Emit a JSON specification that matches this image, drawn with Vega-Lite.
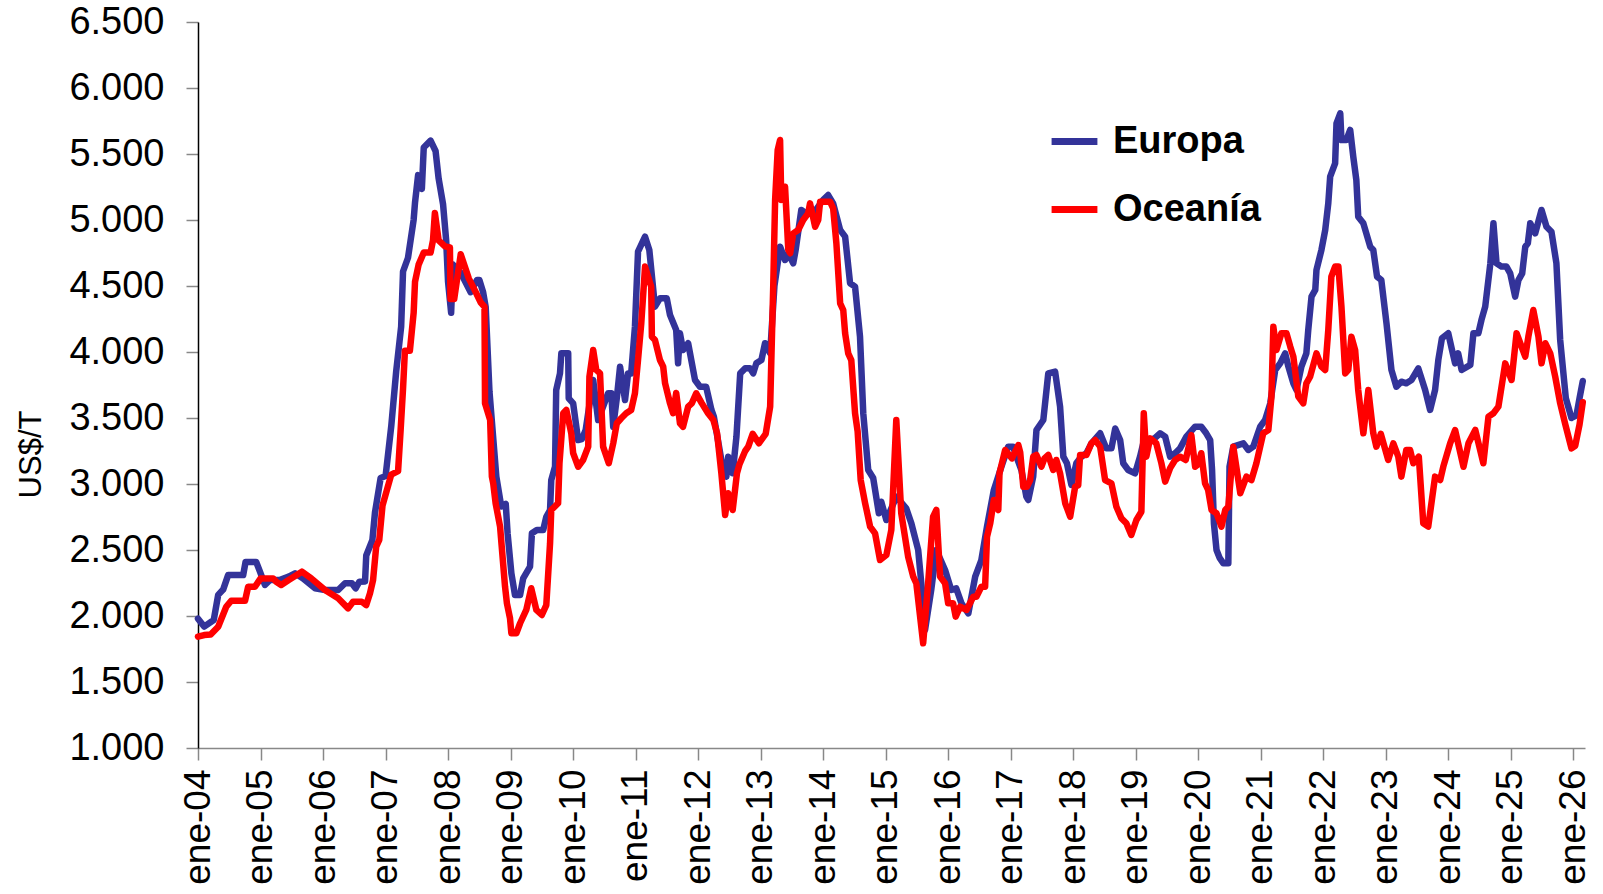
{
  "$schema": "https://vega.github.io/schema/vega-lite/v6.json",
  "autosize": {"type": "none"},
  "width": 1387,
  "height": 726,
  "padding": {"left": 198, "top": 22, "right": 18, "bottom": 146},
  "background": "white",
  "datasets": {
    "eu": [
      {"d":"2004-01-01","v":1980},{"d":"2004-02-06","v":1920},{"d":"2004-04-02","v":1970},{"d":"2004-04-28","v":2160},{"d":"2004-05-27","v":2200},{"d":"2004-06-25","v":2310},{"d":"2004-09-21","v":2310},{"d":"2004-10-05","v":2410},{"d":"2004-12-06","v":2410},{"d":"2004-12-28","v":2336},
      {"d":"2005-01-26","v":2235},{"d":"2005-02-25","v":2273},{"d":"2005-04-21","v":2273},{"d":"2005-06-14","v":2298},{"d":"2005-07-21","v":2323},{"d":"2005-09-06","v":2285},{"d":"2005-11-15","v":2210},
      {"d":"2006-01-12","v":2197},{"d":"2006-03-30","v":2197},{"d":"2006-05-09","v":2248},{"d":"2006-06-18","v":2248},{"d":"2006-07-10","v":2210},{"d":"2006-08-01","v":2260},{"d":"2006-09-03","v":2262},{"d":"2006-09-10","v":2458},{"d":"2006-10-16","v":2576},{"d":"2006-10-31","v":2783},{"d":"2006-12-03","v":3045},
      {"d":"2007-01-01","v":3060},{"d":"2007-02-03","v":3436},{"d":"2007-03-04","v":3853},{"d":"2007-04-02","v":4192},{"d":"2007-04-13","v":4610},{"d":"2007-05-12","v":4714},{"d":"2007-06-14","v":5001},{"d":"2007-06-22","v":5132},{"d":"2007-07-10","v":5340},{"d":"2007-08-01","v":5236},{"d":"2007-08-12","v":5549},{"d":"2007-09-21","v":5601},{"d":"2007-10-20","v":5523},{"d":"2007-11-07","v":5314},{"d":"2007-12-03","v":5118},{"d":"2007-12-21","v":4845},
      {"d":"2008-01-01","v":4532},{"d":"2008-01-19","v":4297},{"d":"2008-01-30","v":4662},{"d":"2008-03-15","v":4600},{"d":"2008-05-12","v":4453},{"d":"2008-06-18","v":4545},{"d":"2008-07-02","v":4545},{"d":"2008-07-24","v":4453},{"d":"2008-08-08","v":4340},{"d":"2008-08-30","v":3700},{"d":"2008-10-09","v":3056},{"d":"2008-11-07","v":2830},{"d":"2008-12-03","v":2850},{"d":"2008-12-14","v":2625},
      {"d":"2009-01-05","v":2324},{"d":"2009-01-26","v":2159},{"d":"2009-02-25","v":2159},{"d":"2009-03-15","v":2285},{"d":"2009-04-24","v":2374},{"d":"2009-05-05","v":2627},{"d":"2009-06-03","v":2652},{"d":"2009-07-10","v":2652},{"d":"2009-07-28","v":2752},{"d":"2009-08-19","v":2803},{"d":"2009-08-26","v":3030},{"d":"2009-09-17","v":3131},{"d":"2009-09-24","v":3712},{"d":"2009-10-16","v":3838},{"d":"2009-10-24","v":3990},{"d":"2009-12-03","v":3990},{"d":"2009-12-06","v":3649},
      {"d":"2010-01-01","v":3611},{"d":"2010-01-30","v":3333},{"d":"2010-02-21","v":3340},{"d":"2010-03-15","v":3409},{"d":"2010-04-28","v":3788},{"d":"2010-05-27","v":3485},{"d":"2010-07-24","v":3687},{"d":"2010-08-12","v":3687},{"d":"2010-08-23","v":3434},{"d":"2010-09-13","v":3650},{"d":"2010-10-02","v":3889},{"d":"2010-10-31","v":3636},{"d":"2010-11-18","v":3838},{"d":"2010-12-06","v":3838},{"d":"2010-12-28","v":4192},
      {"d":"2011-01-15","v":4760},{"d":"2011-02-25","v":4874},{"d":"2011-03-22","v":4773},{"d":"2011-04-24","v":4343},{"d":"2011-05-23","v":4407},{"d":"2011-07-02","v":4407},{"d":"2011-07-21","v":4280},{"d":"2011-08-26","v":4167},{"d":"2011-09-06","v":3914},{"d":"2011-09-17","v":4142},{"d":"2011-10-05","v":4015},{"d":"2011-11-04","v":4066},{"d":"2011-12-14","v":3788},
      {"d":"2012-01-12","v":3737},{"d":"2012-02-17","v":3737},{"d":"2012-03-19","v":3561},{"d":"2012-04-02","v":3510},{"d":"2012-05-16","v":3182},{"d":"2012-06-14","v":3056},{"d":"2012-06-25","v":3207},{"d":"2012-07-21","v":3081},{"d":"2012-08-12","v":3359},{"d":"2012-09-03","v":3838},{"d":"2012-10-02","v":3876},{"d":"2012-10-31","v":3876},{"d":"2012-11-18","v":3838},{"d":"2012-12-06","v":3914},
      {"d":"2013-01-05","v":3939},{"d":"2013-01-26","v":4066},{"d":"2013-02-25","v":3990},{"d":"2013-03-22","v":4500},{"d":"2013-04-24","v":4798},{"d":"2013-05-23","v":4697},{"d":"2013-06-11","v":4748},{"d":"2013-07-10","v":4672},{"d":"2013-07-24","v":4773},{"d":"2013-08-26","v":5076},{"d":"2013-09-24","v":5050},{"d":"2013-11-04","v":5050},
      {"d":"2014-01-01","v":5152},{"d":"2014-01-30","v":5189},{"d":"2014-02-28","v":5126},{"d":"2014-04-10","v":4924},{"d":"2014-05-09","v":4874},{"d":"2014-06-07","v":4521},{"d":"2014-07-06","v":4495},{"d":"2014-08-04","v":4116},{"d":"2014-08-23","v":3536},{"d":"2014-09-21","v":3106},{"d":"2014-10-20","v":3045},{"d":"2014-11-22","v":2778},{"d":"2014-12-06","v":2866},
      {"d":"2015-01-05","v":2727},{"d":"2015-03-04","v":2904},{"d":"2015-05-01","v":2816},{"d":"2015-05-31","v":2702},{"d":"2015-07-10","v":2500},{"d":"2015-08-08","v":2096},{"d":"2015-08-19","v":1894},{"d":"2015-09-24","v":2197},{"d":"2015-10-24","v":2500},{"d":"2015-12-14","v":2349},
      {"d":"2016-01-19","v":2197},{"d":"2016-02-17","v":2210},{"d":"2016-03-19","v":2096},{"d":"2016-04-28","v":2020},{"d":"2016-06-07","v":2298},{"d":"2016-07-13","v":2424},{"d":"2016-08-15","v":2677},{"d":"2016-09-24","v":2955},{"d":"2016-11-07","v":3131},{"d":"2016-12-17","v":3283},
      {"d":"2017-01-15","v":3283},{"d":"2017-02-03","v":3207},{"d":"2017-03-04","v":3106},{"d":"2017-04-02","v":2904},{"d":"2017-04-13","v":2879},{"d":"2017-05-12","v":3056},{"d":"2017-05-31","v":3409},{"d":"2017-07-10","v":3485},{"d":"2017-08-08","v":3838},{"d":"2017-09-17","v":3851},{"d":"2017-10-16","v":3586},{"d":"2017-11-04","v":3207},{"d":"2017-11-25","v":3157},{"d":"2017-12-21","v":2993},
      {"d":"2018-01-19","v":3157},{"d":"2018-02-17","v":3207},{"d":"2018-03-19","v":3233},{"d":"2018-04-17","v":3308},{"d":"2018-06-07","v":3384},{"d":"2018-07-13","v":3270},{"d":"2018-08-12","v":3270},{"d":"2018-09-03","v":3420},{"d":"2018-10-02","v":3333},{"d":"2018-10-20","v":3157},{"d":"2018-11-18","v":3106},{"d":"2018-12-28","v":3081},
      {"d":"2019-01-26","v":3207},{"d":"2019-02-14","v":3308},{"d":"2019-04-21","v":3346},{"d":"2019-05-23","v":3384},{"d":"2019-06-22","v":3359},{"d":"2019-07-21","v":3207},{"d":"2019-08-19","v":3233},{"d":"2019-09-17","v":3270},{"d":"2019-10-24","v":3359},{"d":"2019-12-14","v":3434},
      {"d":"2020-01-19","v":3434},{"d":"2020-02-17","v":3384},{"d":"2020-03-11","v":3333},{"d":"2020-03-22","v":3106},{"d":"2020-04-02","v":2700},{"d":"2020-04-17","v":2500},{"d":"2020-05-05","v":2440},{"d":"2020-05-27","v":2399},{"d":"2020-06-25","v":2399},{"d":"2020-07-02","v":3131},{"d":"2020-07-24","v":3283},{"d":"2020-09-21","v":3308},{"d":"2020-10-20","v":3258},{"d":"2020-11-18","v":3283},{"d":"2020-12-28","v":3434},
      {"d":"2021-01-26","v":3485},{"d":"2021-02-25","v":3611},{"d":"2021-03-26","v":3864},{"d":"2021-04-24","v":3914},{"d":"2021-05-23","v":3990},{"d":"2021-06-11","v":3889},{"d":"2021-07-10","v":3763},{"d":"2021-07-28","v":3712},{"d":"2021-08-26","v":3889},{"d":"2021-09-24","v":3990},{"d":"2021-10-05","v":4167},{"d":"2021-10-24","v":4419},{"d":"2021-11-15","v":4470},{"d":"2021-11-22","v":4621},{"d":"2021-12-21","v":4773},
      {"d":"2022-01-12","v":4924},{"d":"2022-01-30","v":5126},{"d":"2022-02-10","v":5328},{"d":"2022-03-11","v":5429},{"d":"2022-03-19","v":5732},{"d":"2022-04-10","v":5808},{"d":"2022-04-17","v":5606},{"d":"2022-05-16","v":5606},{"d":"2022-06-07","v":5682},{"d":"2022-06-25","v":5480},{"d":"2022-07-13","v":5303},{"d":"2022-07-24","v":5025},{"d":"2022-08-23","v":4975},{"d":"2022-10-02","v":4798},{"d":"2022-10-20","v":4773},{"d":"2022-11-11","v":4571},{"d":"2022-12-06","v":4545},
      {"d":"2023-01-05","v":4218},{"d":"2023-02-03","v":3864},{"d":"2023-03-04","v":3737},{"d":"2023-04-02","v":3775},{"d":"2023-05-01","v":3763},{"d":"2023-05-31","v":3788},{"d":"2023-07-10","v":3876},{"d":"2023-08-19","v":3712},{"d":"2023-09-17","v":3561},{"d":"2023-10-16","v":3712},{"d":"2023-11-04","v":3939},{"d":"2023-11-25","v":4104},
      {"d":"2024-01-01","v":4142},{"d":"2024-01-23","v":4015},{"d":"2024-02-10","v":3914},{"d":"2024-02-28","v":3990},{"d":"2024-03-19","v":3864},{"d":"2024-05-09","v":3902},{"d":"2024-05-27","v":4142},{"d":"2024-06-25","v":4142},{"d":"2024-07-13","v":4243},{"d":"2024-08-04","v":4343},{"d":"2024-09-03","v":4672},{"d":"2024-09-21","v":4975},{"d":"2024-10-09","v":4672},{"d":"2024-11-07","v":4647},{"d":"2024-12-06","v":4647},{"d":"2024-12-28","v":4596},
      {"d":"2025-01-26","v":4419},{"d":"2025-02-14","v":4545},{"d":"2025-03-08","v":4596},{"d":"2025-03-26","v":4798},{"d":"2025-04-10","v":4823},{"d":"2025-04-24","v":4975},{"d":"2025-05-23","v":4899},{"d":"2025-06-29","v":5076},{"d":"2025-07-28","v":4949},{"d":"2025-08-26","v":4911},{"d":"2025-09-24","v":4672},{"d":"2025-10-16","v":4091},{"d":"2025-11-18","v":3650},{"d":"2025-12-21","v":3500},
      {"d":"2026-01-19","v":3520},{"d":"2026-02-06","v":3650},{"d":"2026-02-25","v":3780}
    ],
    "oc": [
      {"d":"2004-01-01","v":1843},{"d":"2004-02-06","v":1856},{"d":"2004-03-15","v":1860},{"d":"2004-04-28","v":1919},{"d":"2004-06-14","v":2070},{"d":"2004-07-13","v":2116},{"d":"2004-10-02","v":2116},{"d":"2004-10-20","v":2222},{"d":"2004-11-29","v":2222},
      {"d":"2005-01-01","v":2285},{"d":"2005-03-15","v":2285},{"d":"2005-04-02","v":2260},{"d":"2005-05-01","v":2235},{"d":"2005-06-14","v":2273},{"d":"2005-08-30","v":2336},{"d":"2005-10-24","v":2285},
      {"d":"2006-01-12","v":2197},{"d":"2006-03-30","v":2134},{"d":"2006-05-27","v":2058},{"d":"2006-06-25","v":2108},{"d":"2006-08-15","v":2108},{"d":"2006-09-10","v":2083},{"d":"2006-10-02","v":2172},{"d":"2006-10-20","v":2273},{"d":"2006-11-07","v":2525},{"d":"2006-11-25","v":2576},{"d":"2006-12-14","v":2836},
      {"d":"2007-02-03","v":3071},{"d":"2007-03-15","v":3097},{"d":"2007-03-30","v":3410},{"d":"2007-04-13","v":3723},{"d":"2007-04-24","v":4010},{"d":"2007-05-23","v":4010},{"d":"2007-06-14","v":4297},{"d":"2007-06-22","v":4532},{"d":"2007-07-13","v":4662},{"d":"2007-08-12","v":4753},{"d":"2007-09-21","v":4753},{"d":"2007-10-05","v":4845},{"d":"2007-10-16","v":5053},{"d":"2007-11-07","v":4845},{"d":"2007-12-14","v":4800},
      {"d":"2008-01-12","v":4792},{"d":"2008-01-15","v":4402},{"d":"2008-02-06","v":4402},{"d":"2008-03-15","v":4740},{"d":"2008-05-01","v":4558},{"d":"2008-06-11","v":4453},{"d":"2008-07-10","v":4375},{"d":"2008-08-01","v":4343},{"d":"2008-08-04","v":3611},{"d":"2008-09-03","v":3485},{"d":"2008-09-13","v":3056},{"d":"2008-09-21","v":3005},{"d":"2008-10-05","v":2854},{"d":"2008-10-31","v":2677},{"d":"2008-11-29","v":2222},{"d":"2008-12-10","v":2096},{"d":"2008-12-28","v":1983},
      {"d":"2009-01-05","v":1869},{"d":"2009-02-03","v":1869},{"d":"2009-02-25","v":1945},{"d":"2009-04-02","v":2046},{"d":"2009-05-01","v":2210},{"d":"2009-05-31","v":2046},{"d":"2009-07-02","v":2008},{"d":"2009-07-28","v":2083},{"d":"2009-08-19","v":2551},{"d":"2009-08-26","v":2803},{"d":"2009-10-05","v":2854},{"d":"2009-10-13","v":3157},{"d":"2009-11-04","v":3536},{"d":"2009-11-22","v":3561},{"d":"2009-12-21","v":3384},
      {"d":"2010-01-01","v":3233},{"d":"2010-01-30","v":3131},{"d":"2010-02-28","v":3182},{"d":"2010-03-30","v":3283},{"d":"2010-04-06","v":3813},{"d":"2010-04-28","v":4015},{"d":"2010-05-16","v":3864},{"d":"2010-06-07","v":3838},{"d":"2010-06-25","v":3283},{"d":"2010-07-28","v":3157},{"d":"2010-08-23","v":3308},{"d":"2010-09-13","v":3460},{"d":"2010-10-09","v":3498},{"d":"2010-11-07","v":3536},{"d":"2010-12-06","v":3561},{"d":"2010-12-28","v":3687},
      {"d":"2011-01-15","v":3939},{"d":"2011-02-03","v":4218},{"d":"2011-02-25","v":4647},{"d":"2011-04-02","v":4495},{"d":"2011-04-06","v":4116},{"d":"2011-04-24","v":4091},{"d":"2011-05-23","v":3939},{"d":"2011-06-11","v":3889},{"d":"2011-06-22","v":3763},{"d":"2011-07-21","v":3611},{"d":"2011-08-08","v":3536},{"d":"2011-08-26","v":3690},{"d":"2011-09-17","v":3460},{"d":"2011-10-05","v":3434},{"d":"2011-11-04","v":3586},{"d":"2011-11-25","v":3611},{"d":"2011-12-21","v":3687},
      {"d":"2012-01-23","v":3611},{"d":"2012-02-28","v":3536},{"d":"2012-03-30","v":3485},{"d":"2012-04-21","v":3384},{"d":"2012-05-16","v":3081},{"d":"2012-06-07","v":2765},{"d":"2012-06-25","v":2930},{"d":"2012-07-21","v":2803},{"d":"2012-08-15","v":3081},{"d":"2012-08-30","v":3150},{"d":"2012-10-02","v":3250},{"d":"2012-10-20","v":3283},{"d":"2012-11-15","v":3380},{"d":"2012-12-21","v":3308},
      {"d":"2013-01-30","v":3380},{"d":"2013-02-25","v":3586},{"d":"2013-03-15","v":4500},{"d":"2013-03-26","v":5152},{"d":"2013-04-10","v":5531},{"d":"2013-04-24","v":5606},{"d":"2013-05-01","v":5152},{"d":"2013-05-23","v":5252},{"d":"2013-06-11","v":4773},{"d":"2013-06-22","v":4748},{"d":"2013-07-10","v":4899},{"d":"2013-08-08","v":4924},{"d":"2013-09-06","v":5000},{"d":"2013-10-05","v":5050},{"d":"2013-10-16","v":5126},{"d":"2013-11-15","v":4949},{"d":"2013-12-03","v":5000},{"d":"2013-12-14","v":5139},
      {"d":"2014-02-10","v":5139},{"d":"2014-02-28","v":5089},{"d":"2014-03-19","v":4823},{"d":"2014-04-10","v":4369},{"d":"2014-04-28","v":4318},{"d":"2014-05-09","v":4142},{"d":"2014-05-27","v":3990},{"d":"2014-06-14","v":3939},{"d":"2014-07-06","v":3536},{"d":"2014-07-21","v":3400},{"d":"2014-08-08","v":3030},{"d":"2014-09-03","v":2854},{"d":"2014-10-02","v":2677},{"d":"2014-10-31","v":2626},{"d":"2014-11-29","v":2424},
      {"d":"2015-01-05","v":2462},{"d":"2015-02-03","v":2652},{"d":"2015-03-04","v":3485},{"d":"2015-04-02","v":2778},{"d":"2015-05-12","v":2450},{"d":"2015-06-11","v":2298},{"d":"2015-06-29","v":2248},{"d":"2015-08-08","v":1793},{"d":"2015-09-06","v":2248},{"d":"2015-10-05","v":2753},{"d":"2015-10-24","v":2803},{"d":"2015-11-15","v":2298},{"d":"2015-12-14","v":2248},
      {"d":"2016-01-01","v":2096},{"d":"2016-01-30","v":2096},{"d":"2016-02-14","v":1995},{"d":"2016-03-11","v":2071},{"d":"2016-04-17","v":2046},{"d":"2016-05-27","v":2146},{"d":"2016-06-14","v":2146},{"d":"2016-07-13","v":2222},{"d":"2016-08-04","v":2222},{"d":"2016-08-15","v":2600},{"d":"2016-09-03","v":2702},{"d":"2016-09-24","v":2879},{"d":"2016-10-20","v":2803},{"d":"2016-10-27","v":3081},{"d":"2016-11-29","v":3258},
      {"d":"2017-01-08","v":3194},{"d":"2017-02-14","v":3295},{"d":"2017-02-25","v":3240},{"d":"2017-03-15","v":2980},{"d":"2017-04-06","v":2980},{"d":"2017-04-24","v":3030},{"d":"2017-05-12","v":3207},{"d":"2017-05-31","v":3220},{"d":"2017-06-29","v":3131},{"d":"2017-07-17","v":3194},{"d":"2017-08-08","v":3220},{"d":"2017-09-06","v":3106},{"d":"2017-09-24","v":3182},{"d":"2017-10-16","v":3081},{"d":"2017-11-15","v":2854},{"d":"2017-12-14","v":2752},
      {"d":"2018-01-12","v":2980},{"d":"2018-01-30","v":2990},{"d":"2018-02-10","v":3220},{"d":"2018-03-19","v":3220},{"d":"2018-04-17","v":3308},{"d":"2018-05-09","v":3333},{"d":"2018-06-07","v":3283},{"d":"2018-07-06","v":3030},{"d":"2018-08-12","v":3005},{"d":"2018-09-10","v":2828},{"d":"2018-10-09","v":2740},{"d":"2018-11-07","v":2702},{"d":"2018-12-06","v":2614},
      {"d":"2019-01-05","v":2727},{"d":"2019-02-03","v":2790},{"d":"2019-02-17","v":3536},{"d":"2019-03-04","v":3207},{"d":"2019-03-26","v":3346},{"d":"2019-05-01","v":3308},{"d":"2019-05-31","v":3157},{"d":"2019-06-22","v":3018},{"d":"2019-07-21","v":3120},{"d":"2019-08-19","v":3182},{"d":"2019-09-17","v":3207},{"d":"2019-10-20","v":3182},{"d":"2019-11-22","v":3370},{"d":"2019-12-14","v":3131},
      {"d":"2020-01-01","v":3150},{"d":"2020-01-19","v":3233},{"d":"2020-02-10","v":3005},{"d":"2020-02-28","v":2955},{"d":"2020-03-19","v":2803},{"d":"2020-04-17","v":2778},{"d":"2020-05-16","v":2677},{"d":"2020-06-07","v":2803},{"d":"2020-06-25","v":2828},{"d":"2020-07-24","v":3283},{"d":"2020-09-03","v":2930},{"d":"2020-10-09","v":3056},{"d":"2020-11-07","v":3030},{"d":"2020-12-06","v":3157},
      {"d":"2021-01-15","v":3384},{"d":"2021-02-14","v":3409},{"d":"2021-03-04","v":3662},{"d":"2021-03-15","v":4192},{"d":"2021-04-02","v":4015},{"d":"2021-05-01","v":4142},{"d":"2021-05-31","v":4142},{"d":"2021-06-22","v":4040},{"d":"2021-07-10","v":3965},{"d":"2021-08-08","v":3662},{"d":"2021-09-06","v":3611},{"d":"2021-09-24","v":3763},{"d":"2021-10-16","v":3813},{"d":"2021-11-22","v":3990},{"d":"2021-12-21","v":3889},
      {"d":"2022-01-12","v":3864},{"d":"2022-01-30","v":4167},{"d":"2022-02-17","v":4571},{"d":"2022-03-11","v":4647},{"d":"2022-03-30","v":4647},{"d":"2022-04-17","v":4343},{"d":"2022-05-09","v":3838},{"d":"2022-05-27","v":3864},{"d":"2022-06-14","v":4116},{"d":"2022-07-06","v":4015},{"d":"2022-07-24","v":3712},{"d":"2022-08-23","v":3384},{"d":"2022-09-21","v":3712},{"d":"2022-10-20","v":3384},{"d":"2022-11-07","v":3283},{"d":"2022-12-03","v":3380},
      {"d":"2023-01-15","v":3182},{"d":"2023-02-14","v":3308},{"d":"2023-03-15","v":3207},{"d":"2023-04-02","v":3056},{"d":"2023-05-01","v":3258},{"d":"2023-05-23","v":3258},{"d":"2023-06-11","v":3157},{"d":"2023-07-13","v":3207},{"d":"2023-08-08","v":2702},{"d":"2023-09-06","v":2677},{"d":"2023-10-16","v":3056},{"d":"2023-11-15","v":3030},{"d":"2023-12-03","v":3131},
      {"d":"2024-01-12","v":3308},{"d":"2024-02-10","v":3409},{"d":"2024-03-30","v":3131},{"d":"2024-04-28","v":3308},{"d":"2024-06-07","v":3409},{"d":"2024-07-24","v":3157},{"d":"2024-08-23","v":3510},{"d":"2024-09-21","v":3536},{"d":"2024-10-20","v":3586},{"d":"2024-11-29","v":3914},
      {"d":"2025-01-05","v":3788},{"d":"2025-02-03","v":4142},{"d":"2025-03-26","v":3965},{"d":"2025-04-13","v":4116},{"d":"2025-05-12","v":4318},{"d":"2025-06-11","v":4116},{"d":"2025-06-29","v":3914},{"d":"2025-07-21","v":4066},{"d":"2025-08-19","v":3990},{"d":"2025-09-17","v":3813},{"d":"2025-10-16","v":3611},{"d":"2025-11-15","v":3450},{"d":"2025-12-21","v":3270},
      {"d":"2026-01-12","v":3290},{"d":"2026-02-06","v":3450},{"d":"2026-02-25","v":3620}
    ]
  },
  "encoding": {
    "x": {
      "field": "d",
      "type": "temporal",
      "scale": {"type": "utc", "domain": [{"year": 2004, "month": 1, "date": 1, "utc": true}, {"year": 2026, "month": 3, "date": 10, "utc": true}]},
      "axis": {
        "title": null,
        "tickCount": {"interval": "year", "step": 1},
        "labelExpr": "'ene-' + utcFormat(datum.value, '%y')",
        "labelAngle": -90,
        "labelAlign": "right",
        "labelBaseline": "middle",
        "labelFont": "Liberation Sans",
        "labelFontSize": 37,
        "labelColor": "#000000",
        "labelPadding": 9,
        "labelOverlap": false,
        "labelFlush": false,
        "labelBound": false,
        "tickSize": 12,
        "tickColor": "#888888",
        "tickWidth": 1.5,
        "domainColor": "#888888",
        "domainWidth": 1.5,
        "grid": false
      }
    },
    "y": {
      "field": "v",
      "type": "quantitative",
      "scale": {"domain": [1000, 6500], "nice": false, "zero": false},
      "axis": {
        "title": "US$/T",
        "values": [1000, 1500, 2000, 2500, 3000, 3500, 4000, 4500, 5000, 5500, 6000, 6500],
        "labelExpr": "replace(format(datum.value, ','), ',', '.')",
        "labelFont": "Liberation Sans",
        "labelFontSize": 38,
        "labelColor": "#000000",
        "labelPadding": 22,
        "tickSize": 12,
        "tickColor": "#888888",
        "tickWidth": 1.5,
        "domainColor": "#000000",
        "domainWidth": 1.5,
        "grid": false,
        "titleFont": "Liberation Sans",
        "titleFontSize": 31,
        "titleFontWeight": "normal",
        "titleColor": "#000000",
        "titleAngle": -90,
        "titleX": -167,
        "titleY": 432,
        "titleAlign": "center",
        "titleBaseline": "middle"
      }
    },
    "color": {
      "scale": {"domain": ["Europa", "Oceanía"], "range": ["#333399", "#FF0000"]},
      "legend": {
        "title": null,
        "orient": "none",
        "legendX": 850,
        "legendY": 93,
        "symbolType": "stroke",
        "symbolSize": 2100,
        "symbolStrokeWidth": 7,
        "labelFont": "Liberation Sans",
        "labelFontSize": 38,
        "labelFontWeight": "bold",
        "labelColor": "#000000",
        "labelOffset": 12,
        "rowPadding": 22
      }
    }
  },
  "layer": [
    {
      "data": {"name": "eu"},
      "mark": {"type": "line", "strokeWidth": 6.5, "strokeJoin": "round", "strokeCap": "round"},
      "encoding": {"color": {"datum": "Europa"}}
    },
    {
      "data": {"name": "oc"},
      "mark": {"type": "line", "strokeWidth": 6.5, "strokeJoin": "round", "strokeCap": "round"},
      "encoding": {"color": {"datum": "Oceanía"}}
    }
  ],
  "config": {"view": {"stroke": null}, "font": "Liberation Sans"}
}
